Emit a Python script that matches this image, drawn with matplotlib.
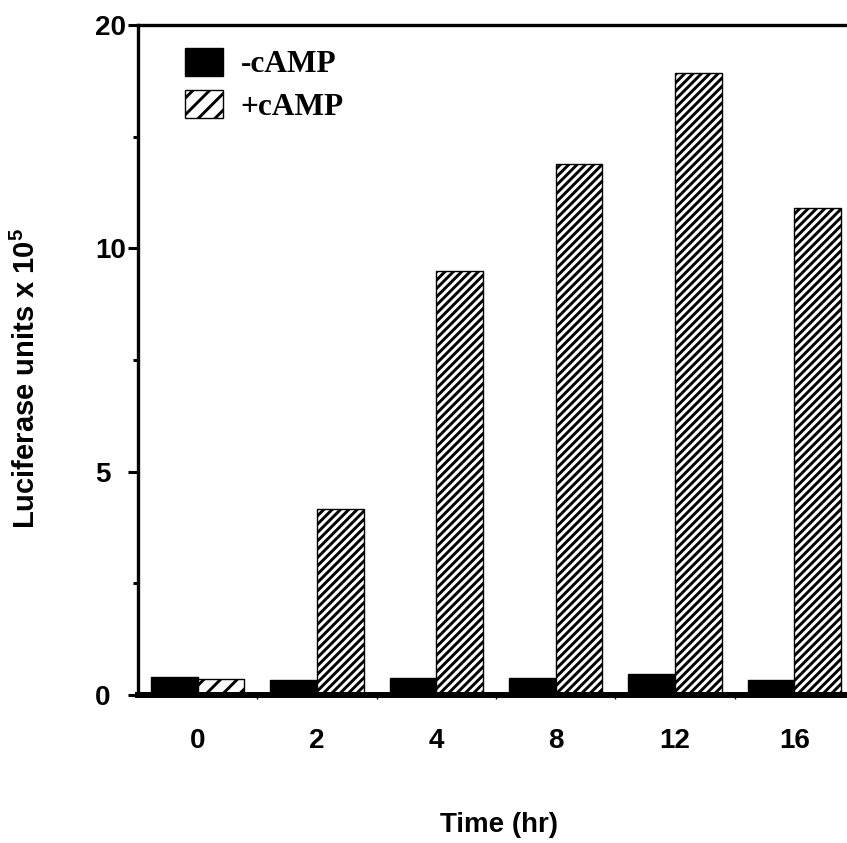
import matplotlib.pyplot as plt
import numpy as np

# Time points (hr) and luciferase readings (axis units)
times = ['0', '2', '4', '8', '12', '16']
minus_camp = [0.40, 0.34, 0.38, 0.38, 0.47, 0.34]
plus_camp = [0.36, 4.16, 9.49, 11.89, 13.92, 10.90]
# y ticks as printed on the original axis
ytick_pos = [0, 5, 10, 15]
ytick_labels = ['0', '5', '10', '20']
yminor_pos = [2.5, 7.5, 12.5]

plt.rcParams['font.family'] = ['Liberation Sans', 'DejaVu Sans']
plt.rcParams['font.weight'] = 'bold'
plt.rcParams['mathtext.fontset'] = 'custom'
plt.rcParams['mathtext.rm'] = 'Liberation Sans:bold'
plt.rcParams['mathtext.bf'] = 'Liberation Sans:bold'
plt.rcParams['hatch.linewidth'] = 2.1

fig = plt.figure(figsize=(8.47, 8.43), dpi=100)
ax = fig.add_axes([138 / 847, 148 / 843, 716 / 847, 670 / 843])

x = np.arange(len(times))
w = 0.39
ax.bar(x - w / 2, minus_camp, w, color='black', edgecolor='black', linewidth=1, label='-cAMP')
bars = ax.bar(x + w / 2, plus_camp, w, color='white', edgecolor='black', linewidth=1,
              hatch='////', label='+cAMP')
# first +cAMP bar has a coarser hatch in the original
bars[0].set_hatch('//')

ax.set_xlim(-0.5, 5.5)
ax.set_ylim(0, 15)

# spines
for side in ['left', 'top', 'right']:
    ax.spines[side].set_linewidth(2.4)
ax.spines['bottom'].set_linewidth(4.3)

# x ticks
ax.set_xticks(x)
ax.set_xticklabels(times, fontsize=20, fontweight='bold')
ax.set_xticks(x[:-1] + 0.5, minor=True)
ax.tick_params(axis='x', which='major', length=0, pad=24)
ax.tick_params(axis='x', which='minor', length=3, width=1, direction='out')

# y ticks
ax.set_yticks(ytick_pos)
ax.set_yticklabels(ytick_labels, fontsize=20, fontweight='bold')
ax.set_yticks(yminor_pos, minor=True)
ax.tick_params(axis='y', which='major', length=7.2, width=2.2, pad=23.8)
ax.tick_params(axis='y', which='minor', length=3.6, width=2.2)
for lab in ax.get_yticklabels():
    lab.set_horizontalalignment('left')

ax.set_xlabel('Time (hr)', fontsize=20, fontweight='bold')
ax.xaxis.set_label_coords(0.504, -0.175)
ax.set_ylabel('Luciferase units x 10$^{5}$', fontsize=21, fontweight='bold')
ax.yaxis.set_label_coords(-0.135, 0.473)

leg = ax.legend(loc='upper left', bbox_to_anchor=(0.048, 0.985), frameon=False,
                prop={'family': 'Liberation Serif', 'weight': 'bold', 'size': 22.6},
                handlelength=1.2, handleheight=1.0, handletextpad=0.57,
                labelspacing=0.35, borderaxespad=0)

fig.savefig('out.png', dpi=100)
